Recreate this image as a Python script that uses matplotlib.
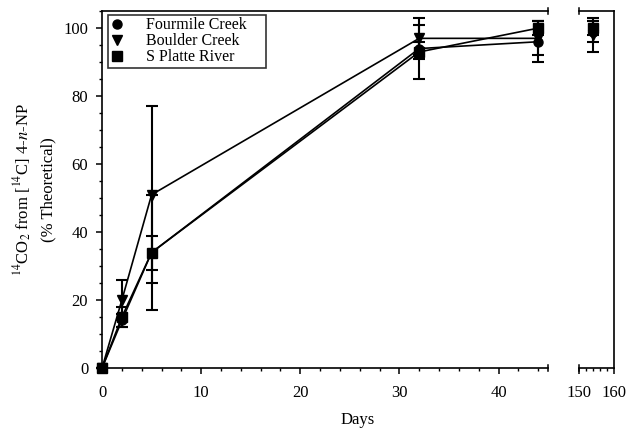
import matplotlib
matplotlib.use('Agg')
import matplotlib.pyplot as plt
from matplotlib.ticker import MultipleLocator
from matplotlib.lines import Line2D

plt.rcParams['font.family'] = ['Liberation Serif', 'DejaVu Serif']
plt.rcParams['mathtext.fontset'] = 'stix'

# Data
days_left = [0, 2, 5, 32, 44]
days_right = [154]

series_names = ['Fourmile Creek', 'Boulder Creek', 'S Platte River']
markers = ['o', 'v', 's']

fourmile = [0, 14, 34, 94, 96]
fourmile_err = [0, 2, 5, 2, 6]
boulder = [0, 20, 51, 97, 97]
boulder_err = [0, 6, 26, 6, 5]
splatte = [0, 15, 34, 93, 100]
splatte_err = [0, 3, 17, 8, 2]

fourmile_late = [99]
fourmile_late_err = [3]
boulder_late = [98]
boulder_late_err = [5]
splatte_late = [100]
splatte_late_err = [2]

early = [(fourmile, fourmile_err), (boulder, boulder_err), (splatte, splatte_err)]
late = [(fourmile_late, fourmile_late_err), (boulder_late, boulder_late_err),
        (splatte_late, splatte_late_err)]

fig = plt.figure(figsize=(6.26, 4.29), dpi=100)
ax1 = fig.add_axes([0.163, 0.142, 0.7125, 0.832])
ax2 = fig.add_axes([0.925, 0.142, 0.0559, 0.832])

ekw = dict(color='black', ms=6.5, lw=1.2, elinewidth=1.5, capsize=4,
           capthick=1.5, clip_on=False, zorder=3)
for (v, e), m in zip(early, markers):
    ax1.errorbar(days_left, v, yerr=e, marker=m, **ekw)
for (v, e), m in zip(late, markers):
    ax2.errorbar(days_right, v, yerr=e, marker=m, linestyle='none', **ekw)

for ax in (ax1, ax2):
    ax.set_ylim(0, 105)
    for s in ax.spines.values():
        s.set_linewidth(1.2)
    ax.tick_params(which='major', direction='out', length=4, width=1.1,
                   labelsize=12, pad=6)
    ax.tick_params(which='minor', direction='out', length=2.2, width=1.0)
    ax.tick_params(axis='x', which='major', pad=8)

ax1.set_xlim(0, 45)
ax1.spines['right'].set_visible(False)
ax1.xaxis.set_major_locator(MultipleLocator(10))
ax1.xaxis.set_minor_locator(MultipleLocator(2))
ax1.yaxis.set_major_locator(MultipleLocator(20))
ax1.yaxis.set_minor_locator(MultipleLocator(5))
ax1.tick_params(top=False, right=False, which='both')

ax2.set_xlim(150, 160)
ax2.spines['left'].set_visible(False)
ax2.set_xticks([150, 160])
ax2.xaxis.set_minor_locator(MultipleLocator(2))
ax2.tick_params(axis='y', which='both', left=False, right=False,
                labelleft=False)
ax2.tick_params(top=False, which='both')

# break markers at spine ends
d = 0.009
for ax, xpos in ((ax1, 1.0), (ax2, 0.0)):
    for ypos in (0.0, 1.0):
        ax.plot([xpos, xpos], [ypos - d, ypos + d], transform=ax.transAxes,
                color='black', lw=1.1, clip_on=False)

handles = [Line2D([], [], marker=m, color='black', linestyle='none', ms=6.5)
           for m in markers]
leg = ax1.legend(handles, series_names, loc='upper left', mode='expand',
                 bbox_to_anchor=(0.0135, 0.8, 0.354, 0.189), borderaxespad=0.0,
                 fontsize=11.5, frameon=True, fancybox=False, handlelength=0.8,
                 handletextpad=1.4, labelspacing=0.0, borderpad=0.15)
leg.get_frame().set_edgecolor('black')
leg.get_frame().set_linewidth(1.2)

fig.text(0.036, 0.557, r'$^{14}$CO$_2$ from [$^{14}$C] 4-$n$-NP',
         rotation=90, ha='center', va='center', fontsize=12)
fig.text(0.078, 0.557, '(% Theoretical)', rotation=90, ha='center',
         va='center', fontsize=12)
fig.text(0.572, 0.021, 'Days', ha='center', va='center', fontsize=12)

fig.savefig('out.png', dpi=100)
